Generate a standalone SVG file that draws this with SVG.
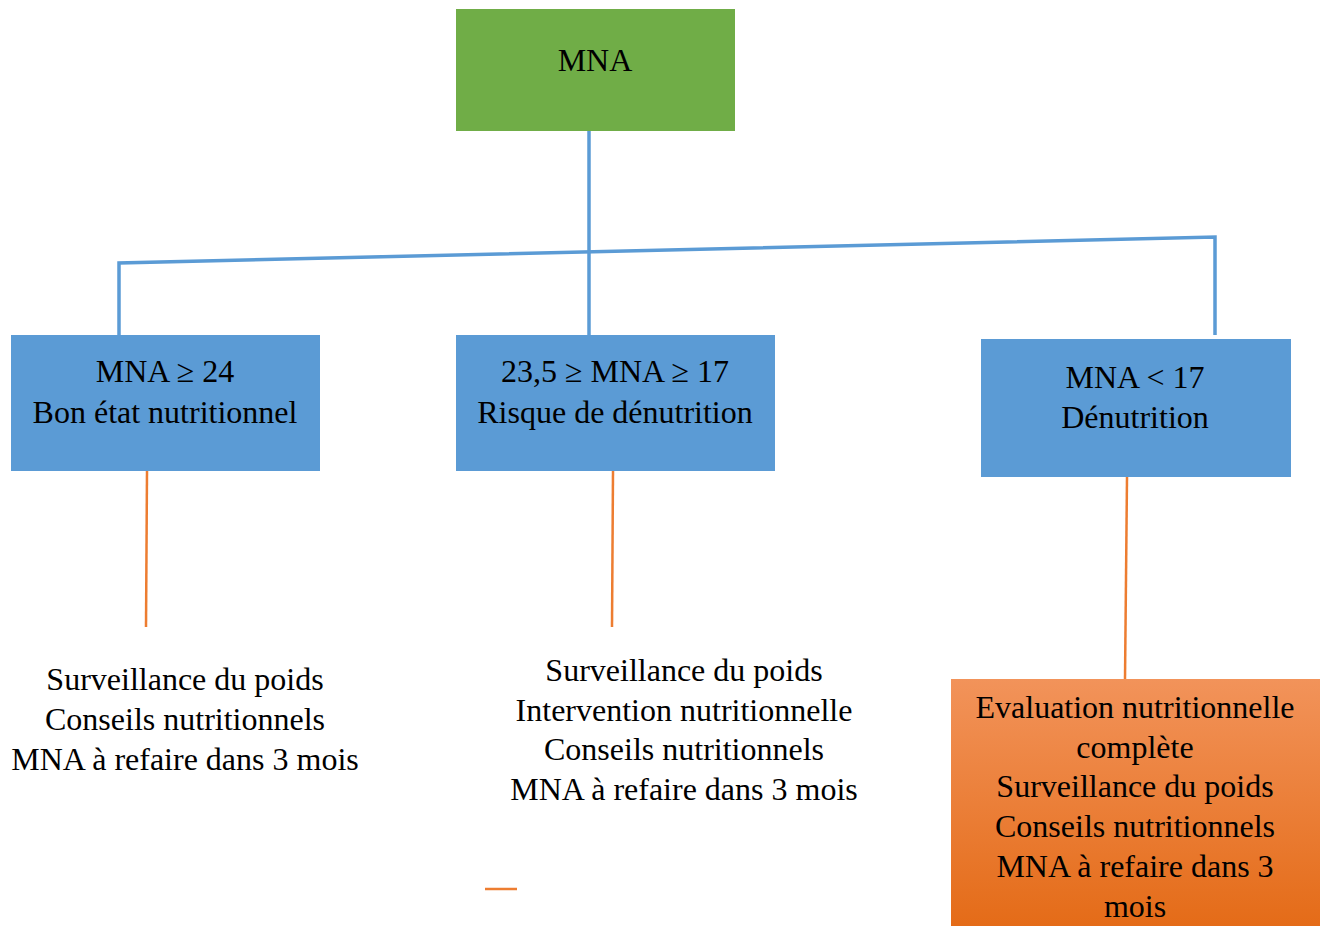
<svg xmlns="http://www.w3.org/2000/svg" width="1325" height="926" viewBox="0 0 1325 926">
  <style>
    text { font-family: "Liberation Serif", "Times New Roman", serif; font-size: 32px; fill: #000; text-anchor: middle; }
    .blue { fill: #5B9BD5; }
    .tree { stroke: #5B9BD5; stroke-width: 3.5; fill: none; }
    .lead { stroke: #ED7D31; stroke-width: 2.5; fill: none; }
  </style>
  <defs>
    <linearGradient id="orangeFill" x1="0" y1="0" x2="0" y2="1">
      <stop offset="0" stop-color="#F2935A"/>
      <stop offset="1" stop-color="#E46B17"/>
    </linearGradient>
  </defs>

  <rect width="1325" height="926" fill="#FFFFFF"/>

  <!-- connectors -->
  <g id="connectors">
    <line class="tree" x1="589" y1="131" x2="589" y2="335"/>
    <polyline class="tree" points="119,335 119,263 1215,237 1215,335"/>
    <line class="lead" x1="147" y1="471" x2="146" y2="627"/>
    <line class="lead" x1="613" y1="471" x2="612" y2="627"/>
    <line class="lead" x1="1127" y1="477" x2="1125" y2="680"/>
    <line class="lead" x1="485" y1="889" x2="517" y2="889"/>
  </g>

  <!-- root -->
  <g id="node-mna">
    <rect x="456" y="9" width="279" height="122" fill="#70AD47"/>
    <text x="595" y="71">MNA</text>
  </g>

  <!-- score categories -->
  <g id="node-good">
    <rect class="blue" x="11" y="335" width="309" height="136"/>
    <text x="165" y="382">MNA ≥ 24</text>
    <text x="165" y="423">Bon état nutritionnel</text>
  </g>

  <g id="node-risk">
    <rect class="blue" x="456" y="335" width="319" height="136"/>
    <text x="615" y="382">23,5 ≥ MNA ≥ 17</text>
    <text x="615" y="423">Risque de dénutrition</text>
  </g>

  <g id="node-undernutrition">
    <rect class="blue" x="981" y="339" width="310" height="138"/>
    <text x="1135" y="388">MNA &lt; 17</text>
    <text x="1135" y="428">Dénutrition</text>
  </g>

  <!-- actions -->
  <g id="action-good">
    <text x="185" y="690">Surveillance du poids</text>
    <text x="185" y="730">Conseils nutritionnels</text>
    <text x="185" y="770">MNA à refaire dans 3 mois</text>
  </g>

  <g id="action-risk">
    <text x="684" y="681">Surveillance du poids</text>
    <text x="684" y="721">Intervention nutritionnelle</text>
    <text x="684" y="760">Conseils nutritionnels</text>
    <text x="684" y="800">MNA à refaire dans 3 mois</text>
  </g>

  <g id="action-undernutrition">
    <rect x="951" y="679" width="369" height="250" fill="url(#orangeFill)"/>
    <text x="1135" y="718">Evaluation nutritionnelle</text>
    <text x="1135" y="758">complète</text>
    <text x="1135" y="797">Surveillance du poids</text>
    <text x="1135" y="837">Conseils nutritionnels</text>
    <text x="1135" y="877">MNA à refaire dans 3</text>
    <text x="1135" y="917">mois</text>
  </g>
</svg>
